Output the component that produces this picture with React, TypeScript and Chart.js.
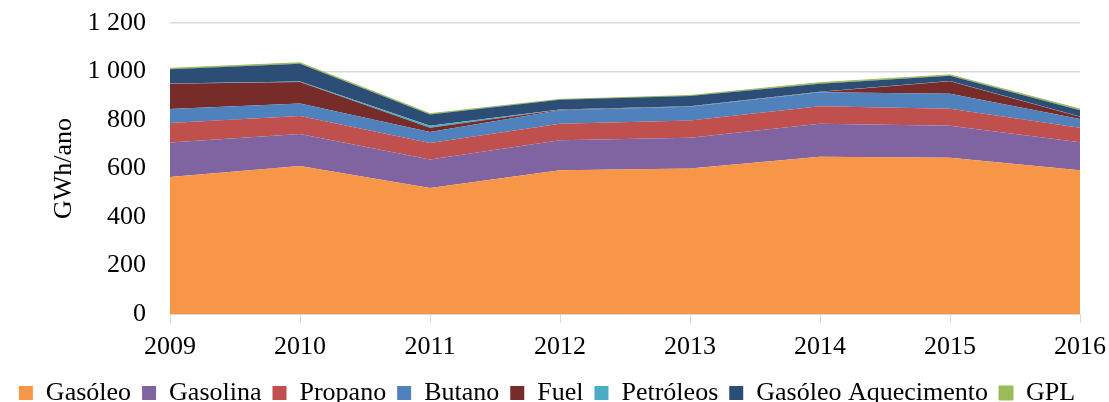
import React, { useEffect, useRef } from "react";
import { Chart, registerables } from "chart.js";

Chart.register(...registerables);

const years = ["2009", "2010", "2011", "2012", "2013", "2014", "2015", "2016"];
const gasoleo = [565, 610, 520, 593, 600, 648, 644, 593];
const gasolina = [142, 132, 117, 123, 127, 137, 132, 115];
const propano = [81, 74, 68, 69, 71, 72, 70, 60];
const butano = [57, 52, 46, 55, 57, 57, 62, 36];
const fuel = [104, 89, 17, 2, 1, 1, 52, 9];
const petroleos = [2, 2, 8, 1, 1, 1, 1, 1];
const gasoleoAquecimento = [58, 73, 47, 40, 42, 34, 21, 26];
const gpl = [4, 4, 3, 2, 2, 4, 4, 5];

const seriesNames = [
  "Gasóleo",
  "Gasolina",
  "Propano",
  "Butano",
  "Fuel",
  "Petróleos",
  "Gasóleo Aquecimento",
  "GPL",
];
const seriesValues = [gasoleo, gasolina, propano, butano, fuel, petroleos, gasoleoAquecimento, gpl];
const seriesColors = ["#F79646", "#8064A2", "#C0504D", "#4F81BD", "#772C2A", "#4BACC6", "#2C4D75", "#9BBB59"];

const FONT = "'Liberation Serif', 'Times New Roman', serif";
const FS = 26;

function fmt(v: number): string {
  return String(v).replace(/\B(?=(\d{3})+(?!\d))/g, " ");
}

const legendFit = {
  id: "legendFit",
  beforeInit(chart: any) {
    const legend = chart.legend;
    if (!legend) return;
    const orig = legend.fit;
    legend.fit = function () {
      orig.call(legend);
      legend.height = 33;
    };
  },
  afterLayout(chart: any) {
    const legend = chart.legend;
    if (!legend) return;
    legend.left += 7;
    legend.right += 7;
  },
};

export default function App() {
  const ref = useRef<HTMLCanvasElement | null>(null);

  useEffect(() => {
    document.body.style.margin = "0";
    if (!ref.current) return;
    const chart = new Chart(ref.current, {
      type: "line",
      plugins: [legendFit],
      data: {
        labels: years,
        datasets: seriesNames.map((name, i) => ({
          label: name,
          data: seriesValues[i],
          backgroundColor: seriesColors[i],
          borderColor: seriesColors[i],
          borderWidth: i === seriesNames.length - 1 ? 1 : 0,
          pointRadius: 0,
          fill: i === 0 ? "origin" : "-1",
          tension: 0,
        })),
      },
      options: {
        animation: false,
        responsive: false,
        maintainAspectRatio: false,
        layout: { padding: { left: 0, right: 29, top: 23, bottom: 0 } },
        plugins: {
          tooltip: { enabled: false },
          legend: {
            position: "bottom",
            labels: {
              boxWidth: 14,
              boxHeight: 14,
              padding: 11,
              color: "#000",
              font: { family: FONT, size: FS },
            },
          },
        },
        scales: {
          x: {
            type: "category",
            offset: false,
            grid: {
              display: true,
              drawOnChartArea: false,
              drawTicks: true,
              tickLength: 9,
              color: "#d9d9d9",
            },
            border: { display: true, color: "#d9d9d9" },
            ticks: {
              color: "#000",
              padding: 9,
              maxRotation: 0,
              font: { family: FONT, size: FS },
            },
            afterFit: (s: any) => {
              s.height = 55;
              s.paddingLeft = 0;
              s.paddingRight = 0;
            },
          },
          y: {
            stacked: true,
            min: 0,
            max: 1200,
            grid: { color: "#d9d9d9", drawTicks: false, lineWidth: 1.5 },
            border: { display: false },
            ticks: {
              stepSize: 200,
              color: "#000",
              padding: 24,
              font: { family: FONT, size: FS },
              callback: (v: any) => fmt(Number(v)),
            },
            title: {
              display: true,
              text: "GWh/ano",
              color: "#000",
              padding: { top: 49, bottom: 0 },
              font: { family: FONT, size: FS },
            },
            afterFit: (s: any) => {
              s.width = 170;
              s.paddingTop = 0;
              s.paddingBottom = 0;
            },
          },
        },
      },
    });
    return () => chart.destroy();
  }, []);

  return (
    <div style={{ width: 1109, height: 402 }}>
      <canvas ref={ref} width={1109} height={402} style={{ display: "block" }} />
    </div>
  );
}
